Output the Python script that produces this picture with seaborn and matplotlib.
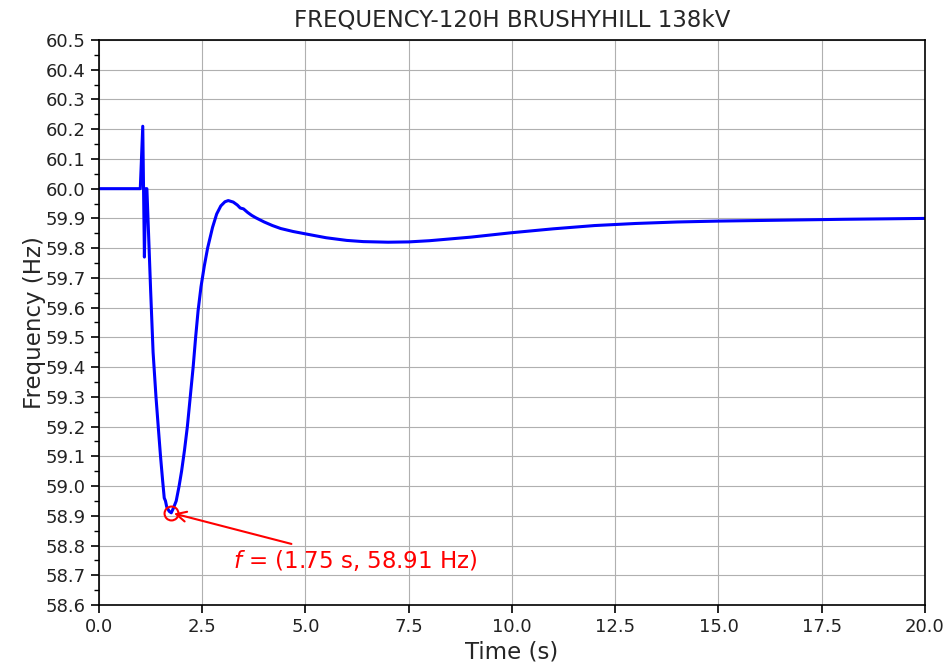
import matplotlib
matplotlib.use("Agg")
import matplotlib.pyplot as plt
import seaborn as sns
import numpy as np
import pandas as pd
from matplotlib.ticker import MultipleLocator

time_s = [0.0, 1.0, 1.06, 1.10, 1.13, 1.16, 1.20, 1.25, 1.31, 1.38, 1.44, 1.49, 1.54, 1.58,
          1.61, 1.64, 1.70, 1.75, 1.80, 1.87, 1.94, 2.00, 2.07, 2.14, 2.21, 2.28, 2.34,
          2.40, 2.47, 2.55, 2.63, 2.75, 2.85, 2.95, 3.05, 3.13, 3.25, 3.35, 3.42, 3.50, 3.60,
          3.70, 3.80, 4.00, 4.20, 4.40, 4.70, 5.00, 5.50, 6.00, 6.40, 7.00, 7.50, 8.00,
          9.00, 10.0, 11.0, 12.0, 13.0, 14.0, 15.0, 16.5, 18.0, 20.0]
freq_hz = [60.0, 60.0, 60.21, 59.77, 60.0, 60.0, 59.85, 59.66, 59.45, 59.30, 59.19, 59.10, 59.02, 58.96,
           58.95, 58.93, 58.915, 58.91, 58.925, 58.95, 59.00, 59.05, 59.12, 59.20, 59.30, 59.40, 59.50,
           59.59, 59.67, 59.74, 59.80, 59.87, 59.915, 59.942, 59.956, 59.96, 59.955, 59.945, 59.935, 59.932, 59.92,
           59.91, 59.902, 59.888, 59.876, 59.866, 59.856, 59.848, 59.835, 59.826, 59.822, 59.82, 59.821, 59.825,
           59.837, 59.852, 59.865, 59.876, 59.883, 59.888, 59.891, 59.894, 59.897, 59.90]

min_t = 1.75
min_f = 58.91
title = "FREQUENCY-120H BRUSHYHILL 138kV"

sns.set_style("ticks")
plt.rcParams["font.family"] = ["DejaVu Sans"]

fig = plt.figure(figsize=(9.49, 6.62), dpi=100)
ax = fig.add_axes([0.1043, 0.0861, 0.8704, 0.8535])

df = pd.DataFrame({"t": time_s, "f": freq_hz})
sns.lineplot(data=df, x="t", y="f", ax=ax, color="blue", linewidth=2.2,
             sort=False, estimator=None)

ax.plot([min_t], [min_f], "o", mfc="none", mec="red", ms=10, mew=1.5)
ax.annotate(r"$f$ = (%.2f s, %.2f Hz)" % (min_t, min_f), xy=(min_t, min_f),
            xytext=(3.24, 58.75), color="red", fontsize=16.5, va="center",
            arrowprops=dict(arrowstyle="->", color="red", lw=1.5, mutation_scale=18))

ax.set_xlim(0, 20)
ax.set_ylim(58.6, 60.5)
ax.xaxis.set_major_locator(MultipleLocator(2.5))
ax.yaxis.set_major_locator(MultipleLocator(0.1))
ax.yaxis.set_minor_locator(MultipleLocator(0.05))
ax.grid(True, which="major", color="#b0b0b0", linewidth=0.8)
ax.tick_params(axis="both", which="major", labelsize=13, length=6, width=1.2,
               color="black", labelcolor="#222222")
ax.tick_params(axis="y", which="minor", length=3.5, width=1.0, color="black")
for s in ax.spines.values():
    s.set_color("black")
    s.set_linewidth(1.2)

ax.set_xlabel("Time (s)", fontsize=16.5, labelpad=3)
ax.set_ylabel("Frequency (Hz)", fontsize=16.5, labelpad=0)
ax.set_title(title, fontsize=16.5, pad=10)

fig.savefig("out.png", dpi=100)
